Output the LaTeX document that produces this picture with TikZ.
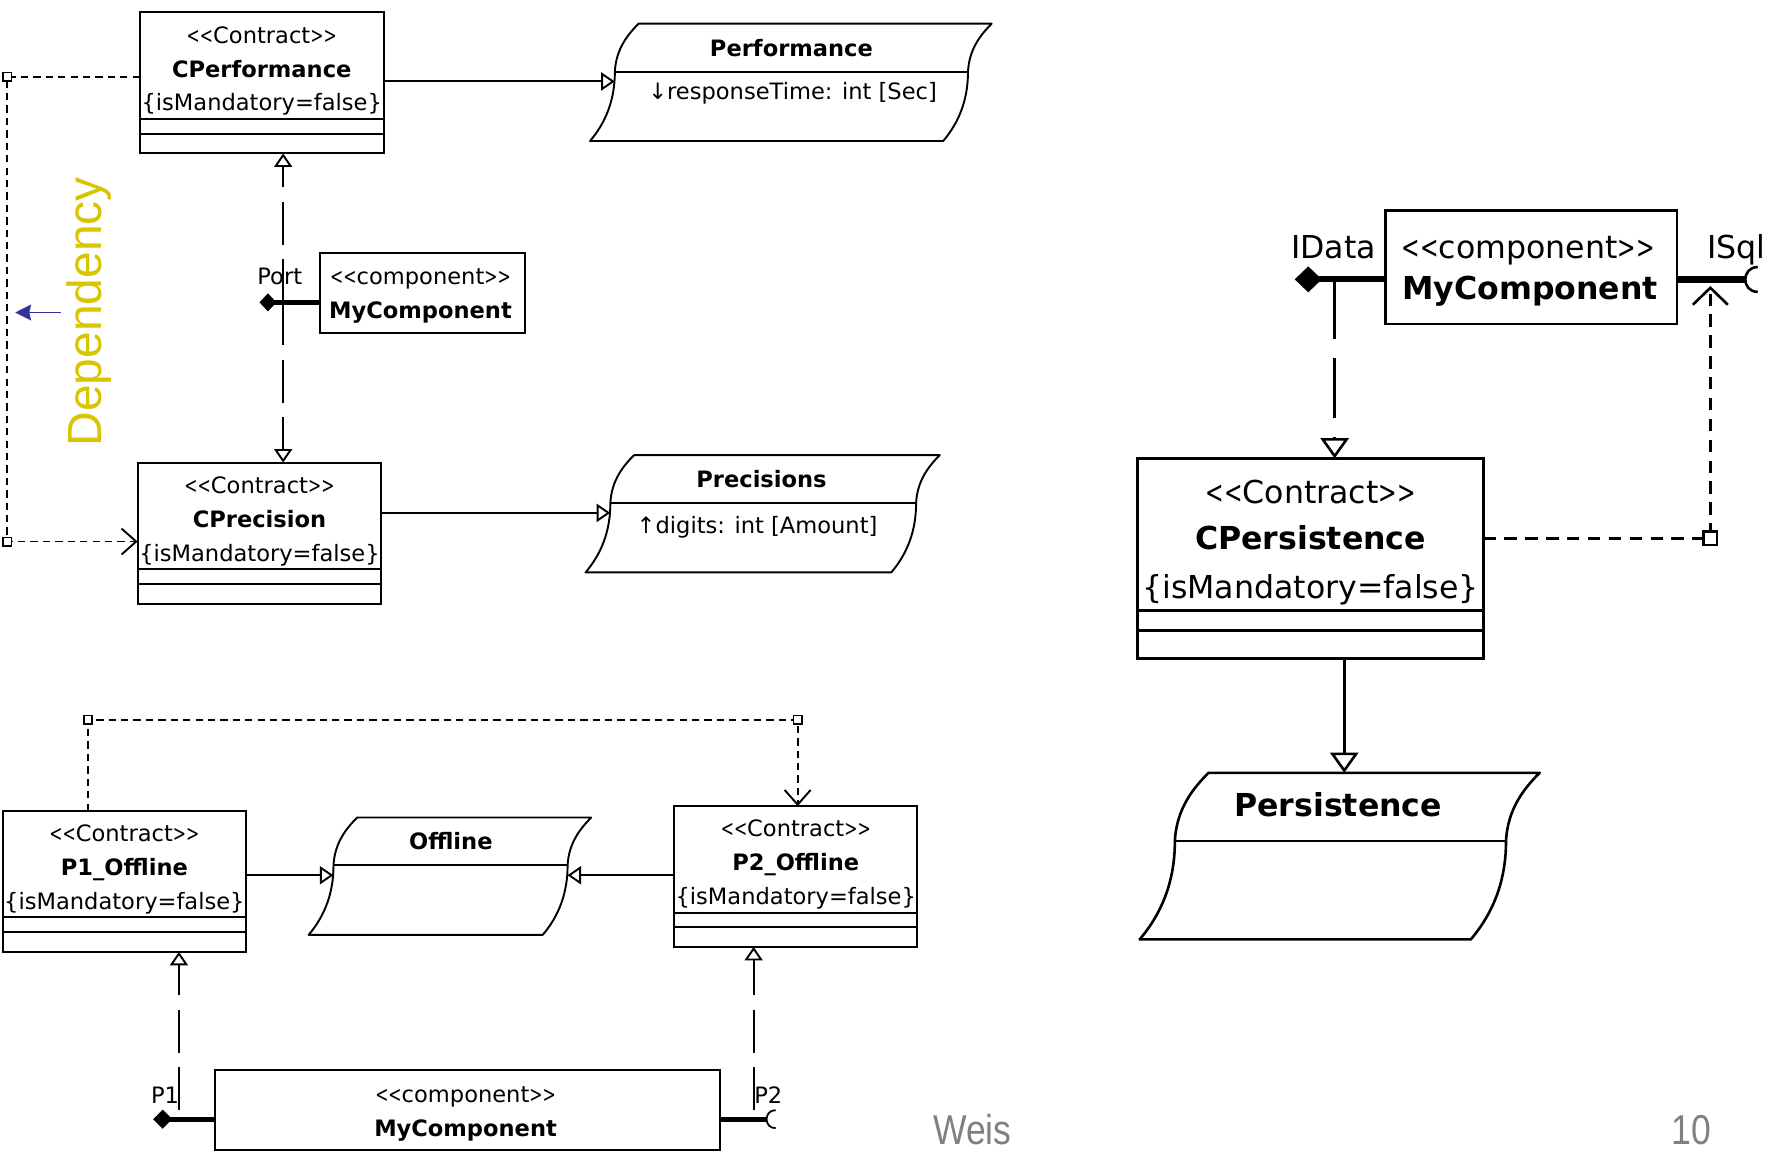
\documentclass[tikz,border=0pt]{standalone}
\usepackage{fontspec}
\setmainfont{DejaVu Sans}
\newfontfamily\slidefont{Liberation Sans}
\usepackage{graphicx}
\usetikzlibrary{arrows.meta,shapes.geometric,calc}

\definecolor{depyellow}{RGB}{217,196,0}
\definecolor{depblue}{RGB}{51,51,153}
\definecolor{footgray}{RGB}{128,128,128}

% narrow angle brackets for stereotypes
\newcommand\stl{\scalebox{0.7}[1]{<}}
\newcommand\stg{\scalebox{0.7}[1]{>}}
\newcommand\stereo[1]{\stl\stl#1\stg\stg}

% contract class with three compartments (small scale)
\newcommand\contractbox[6]{%
  \node[classbox, minimum width=#4pt, minimum height=#5pt] (#1) at (#2,#3) {};
  \node[txt]  (#1-st) at ($(#1.north)+(0,20)$) {\stereo{Contract}};
  \node[txtb] (#1-nm) at ($(#1.north)+(0,50)$) {#6};
  \node[txt]  (#1-tg) at ($(#1.north)+(0,80)$) {\{isMandatory=false\}};
  \draw[sep] ($(#1.north west)+(0,94.5)$) -- ($(#1.north east)+(0,94.5)$);
  \draw[sep] ($(#1.north west)+(0,107.5)$) -- ($(#1.north east)+(0,107.5)$);
}

% class with curved sides (drawn relative to its top left corner)
\newcommand\wavyclass[2]{%
  \draw[wavy] (0,0) .. controls (-9,9) and (-20,22) .. (-21,42.5)
     .. controls (-21,67.5) and (-29,87.5) .. (-43,104)
     -- ({#1-43},104) .. controls ({#1-29},87.5) and ({#1-21},67.5) .. ({#1-21},42.5)
     .. controls ({#1-20},22) and ({#1-9},9) .. (#1,0) -- cycle;
  \draw[wavy] (-21,42.5) -- ({#1-21},42.5);
  \coordinate (#2-w) at (-21.1,51.2);
  \coordinate (#2-e) at ({#1-21.1},51.2);
}

\tikzset{
  classbox/.style={draw, line width=1.8pt, fill=white, inner sep=0pt, outer sep=0pt, anchor=north west},
  bigbox/.style={classbox, line width=2.5pt},
  sep/.style={line width=1.8pt},
  bigsep/.style={line width=2.5pt},
  wavy/.style={line width=1.7pt, fill=white, line join=round},
  txt/.style={inner sep=0pt, font=\fontsize{20}{24}\selectfont, text height=14.6pt, text depth=0pt},
  txtb/.style={txt, font=\fontsize{20}{24}\selectfont\bfseries},
  bigtxt/.style={inner sep=0pt, font=\fontsize{28}{32}\selectfont, text height=20.4pt, text depth=0pt},
  bigtxtb/.style={bigtxt, font=\fontsize{28}{32}\selectfont\bfseries},
  real/.style={line width=1.7pt, -{Triangle[open,length=12pt,width=16pt]}},
  realdash/.style={real, dash pattern=on 38pt off 13pt},
  bigreal/.style={line width=2.3pt, -{Triangle[open,length=18pt,width=25pt]}},
  bigrealdash/.style={bigreal, dash pattern=on 53pt off 17pt},
  dep/.style={line width=1.7pt, dash pattern=on 6.5pt off 4.5pt, -{Straight Barb[length=13pt,width=23pt]}},
  bigdep/.style={line width=2.3pt, dash pattern=on 11pt off 7.5pt, -{Straight Barb[length=15pt,width=31pt]}},
  depsq/.style={draw, fill=white, line width=1.4pt, minimum size=7.5pt, inner sep=0pt},
  bigdepsq/.style={draw, fill=white, line width=2.2pt, minimum size=12pt, inner sep=0pt},
  portdia/.style={diamond, fill=black, draw=none, inner sep=0pt, outer sep=0pt},
  portln/.style={line width=4.2pt},
  bigportln/.style={line width=5.5pt},
  sockln/.style={line width=1.6pt},
  bigsockln/.style={line width=2.3pt},
  foottxt/.style={inner sep=0pt, text=footgray, font=\slidefont\fontsize{37}{40}\selectfont,
                  text height=26.5pt, text depth=0pt},
}

\begin{document}
\begin{tikzpicture}[x=1pt, y=-1pt]
\fill[white] (0,0) rectangle (1568,1023);
\useasboundingbox (0,0) rectangle (1568,1023);

% ---------- upper left: port realizing two contracts ----------
\contractbox{cperf}{124}{11}{216}{125}{CPerformance}
\contractbox{cprec}{122}{410}{216}{125.5}{CPrecision}

\begin{scope}[shift={(566,21)}]
  \wavyclass{313}{perf}
\end{scope}
\node[txtb] (perf-nm) at (701.5,42.8) {Performance};
\node[txt]  (perf-at) at (702.5,81.3) {↓responseTime: int [Sec]};

\begin{scope}[shift={(562,403.4)}]
  \wavyclass{271}{prec}
\end{scope}
\node[txtb] (prec-nm) at (675,424.8) {Precisions};
\node[txt]  (prec-at) at (671,465.5) {↑digits: int [Amount]};

\draw[real] (cperf.east |- perf-w) -- (perf-w);
\draw[real] (cprec.east |- prec-w) -- (prec-w);

\node[classbox, minimum width=181.5pt, minimum height=70.3pt] (comp1) at (283.5,224.6) {};
\node[txt]  (comp1-st) at ($(comp1.north)+(-1.5,20.7)$) {\stereo{component}};
\node[txtb] (comp1-nm) at ($(comp1.north)+(-1.5,50.2)$) {MyComponent};

\coordinate (port1x) at (251,268);
\draw[realdash] (port1x) -- (port1x |- cperf.south);
\draw[realdash] (port1x) -- (port1x |- cprec.north);
\node[portdia, minimum width=15pt, minimum height=16pt] (port1) at (237.5,268) {};
\draw[portln] (port1.center) -- (port1 -| comp1.west);
\node[txt] (port1-lbl) at (248,245.3) {Port};

% dependency between the two contracts
\coordinate (dc1) at (6.5,68);
\coordinate (dc2) at (6.5,480);
\draw[dep] (cperf.west |- dc1) -- (dc1) -- (dc2) -- (cprec.west |- dc2);
\node[depsq] (dsq1) at (dc1) {};
\node[depsq] (dsq2) at (dc2) {};

\node[rotate=90, anchor=base, inner sep=0pt, text=depyellow,
      font=\slidefont\fontsize{42.5}{46}\selectfont] (deplabel) at (90,276.3) {Dependency};
\coordinate (blA) at (54,277);
\coordinate (blB) at (13.5,277);
\draw[line width=1.6pt, depblue, -{Stealth[length=14pt,width=14pt,inset=1.5pt]}] (blA) -- (blB);

% ---------- lower left: two ports, two contracts ----------
\contractbox{p1off}{2.5}{718.7}{215.5}{125}{P1\_Offline}
\contractbox{p2off}{597.5}{714.5}{215.7}{124.8}{P2\_Offline}

\begin{scope}[shift={(316.6,724.6)}]
  \wavyclass{207.5}{offl}
\end{scope}
\node[txtb] (offl-nm) at (399.6,746) {Offline};

\draw[real] (p1off.east |- offl-w) -- (offl-w);
\draw[real] (p2off.west |- offl-e) -- (offl-e);

\coordinate (dc3) at (78,638);
\coordinate (dc4) at (707,638);
\draw[dep] (dc3 |- p1off.north) -- (dc3) -- (dc4) -- (dc4 |- p2off.north);
\node[depsq] (dsq3) at (dc3) {};
\node[depsq] (dsq4) at (dc4) {};

\node[classbox, minimum width=447.7pt, minimum height=70.3pt] (comp3) at (190.3,948.6) {};
\node[txt]  (comp3-st) at ($(comp3.north)+(-1.5,21.3)$) {\stereo{component}};
\node[txtb] (comp3-nm) at ($(comp3.north)+(-1.5,51.7)$) {MyComponent};

\coordinate (p1x) at (158.6,984);
\coordinate (p2x) at (668,984);
\draw[realdash] (p1x) -- (p1x |- p1off.south);
\draw[realdash] (p2x) -- (p2x |- p2off.south);

\node[portdia, minimum width=17pt, minimum height=17pt] (port2) at (144.2,992) {};
\draw[portln] (port2.center) -- (port2 -| comp3.west);
\node[txt] (port2-lbl) at (146.3,970.5) {P1};

\coordinate (sock3) at (687.5,992);
\draw[portln] (comp3.east |- sock3) -- ($(sock3)+(-8,0)$);
\draw[sockln] ($(sock3)+(0,-8)$) .. controls ($(sock3)+(-10.7,-8)$) and ($(sock3)+(-10.7,8)$) .. ($(sock3)+(0,8)$);
\node[txt] (port3-lbl) at (681,970.5) {P2};

% ---------- right: persistence contract ----------
\node[bigbox, minimum width=258.5pt, minimum height=100.4pt] (comp4) at (1227.9,186.8) {};
\node[bigtxt]  (comp4-st) at ($(comp4.north)+(-2.5,31.9)$) {\stereo{component}};
\node[bigtxtb] (comp4-nm) at ($(comp4.north)+(-1,68.8)$) {MyComponent};

\node[bigbox, minimum width=306.6pt, minimum height=177.3pt] (cpers) at (1008.4,406.3) {};
\node[bigtxt]  (cpers-st) at ($(cpers.north)+(0,29.6)$) {\stereo{Contract}};
\node[bigtxtb] (cpers-nm) at ($(cpers.north)+(0,70.9)$) {CPersistence};
\node[bigtxt]  (cpers-tg) at ($(cpers.north)+(0,113.8)$) {\{isMandatory=false\}};
\draw[bigsep] ($(cpers.north west)+(0,134.5)$) -- ($(cpers.north east)+(0,134.5)$);
\draw[bigsep] ($(cpers.north west)+(0,152.8)$) -- ($(cpers.north east)+(0,152.8)$);

\begin{scope}[shift={(1071.2,685)}, scale=1.42, wavy/.append style={line width=2.3pt}]
  \wavyclass{206.7}{pers}
\end{scope}
\coordinate (pers-n) at (1191.5,685);
\node[bigtxtb] (pers-nm) at (1186.2,713.7) {Persistence};

\draw[bigreal] (pers-n |- cpers.south) -- (pers-n);

\coordinate (idatax) at (1183,247.6);
\draw[bigrealdash] (idatax) -- (idatax |- cpers.north);
\node[portdia, minimum width=24pt, minimum height=23pt] (port4) at (1159.6,247.6) {};
\draw[bigportln] (port4.center) -- (port4 -| comp4.west);
\node[bigtxt] (port4-lbl) at (1182,218.7) {IData};

\coordinate (sock5) at (1558,247.7);
\draw[bigportln] (comp4.east |- sock5) -- ($(sock5)+(-11,0)$);
\draw[bigsockln] ($(sock5)+(0,-11)$) .. controls ($(sock5)+(-14.7,-11)$) and ($(sock5)+(-14.7,11)$) .. ($(sock5)+(0,11)$);
\node[bigtxt, anchor=west] (port5-lbl) at (1513,218.7) {ISql};

\coordinate (dc5) at (1516,477.2);
\coordinate (isqlv) at (1516,253.5);
\draw[bigdep] (cpers.east |- dc5) -- (dc5) -- (isqlv);
\node[bigdepsq] (dsq5) at (dc5) {};

% ---------- footer ----------
\node[foottxt] (foot-author) at (862,1001) {\scalebox{0.85}[1]{Weis}};
\node[foottxt] (foot-page) at (1499,1001) {\scalebox{0.85}[1]{10}};
\end{tikzpicture}
\end{document}
